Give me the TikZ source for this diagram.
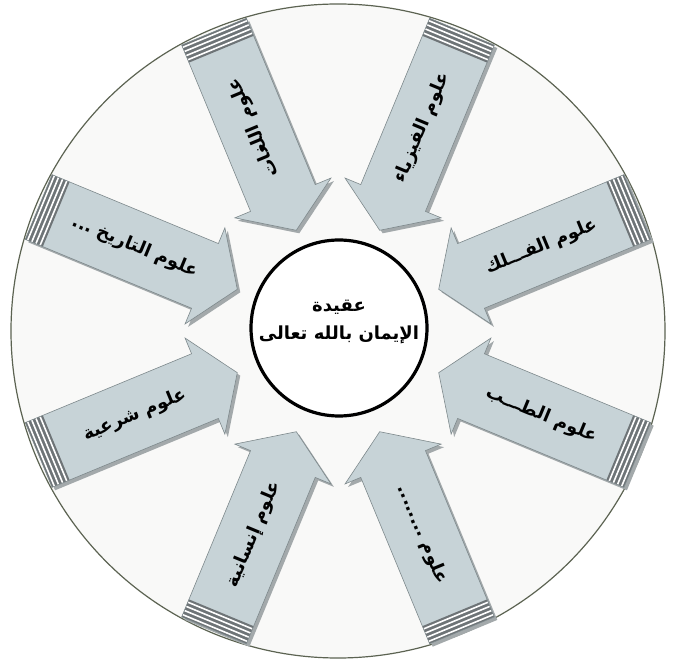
\documentclass[tikz,border=0pt]{standalone}
\usepackage{fontspec}
\newfontfamily\arabicfont[Script=Arabic]{DejaVu Sans}
\TeXXeTstate=1
\definecolor{arrowfill}{HTML}{C7D3D7}
\definecolor{arrowborder}{HTML}{7E898C}
\definecolor{arrowshadow}{HTML}{A3A9AB}
\definecolor{stripedark}{HTML}{6E7477}
\definecolor{discfill}{HTML}{F9F9F8}
\definecolor{discborder}{HTML}{5C6352}
\newcommand{\manydots}{........}
\newcommand{\fewdots}{...}
\tikzset{
  arrowbody/.pic={
    \fill[pic actions] (109,0) -- (144,52) -- (144,35) -- (324,35)
      -- (324,-35) -- (144,-35) -- (144,-52) -- cycle;
  },
  sciencearrow/.pic={
    \fill[arrowfill] (109,0) -- (144,52) -- (144,35) -- (324,35)
      -- (324,-35) -- (144,-35) -- (144,-52) -- cycle;
    \fill[stripedark] (305,-35) rectangle (324,35);
    \foreach \s in {308,312.5,317,321.5}
      \draw[white, line width=1.6pt] (\s,-35) -- (\s,35);
    \draw[arrowborder, line width=0.6pt] (109,0) -- (144,52) -- (144,35) -- (324,35)
      -- (324,-35) -- (144,-35) -- (144,-52) -- cycle;
  }
}

\begin{document}
\begin{tikzpicture}[x=1pt, y=1pt]
  \useasboundingbox (0,0) rectangle (675,662);
  \coordinate (c) at (338,331);
  \draw[discborder, fill=discfill, line width=1.2pt] (c) circle (327);

  % arrows pointing at the core
  \foreach \a in {22.5,67.5,112.5,157.5,202.5,247.5,292.5,337.5}
    \pic[fill=arrowshadow, rotate=\a] at ([shift={(3,-3)}]c) {arrowbody};
  \foreach \a in {22.5,67.5,112.5,157.5,202.5,247.5,292.5,337.5}
    \pic[rotate=\a] at (c) {sciencearrow};

  % labels along the arrows
  \foreach \a/\r/\t [count=\i] in {
      112.5/112.5/{علوم اللغات},
      67.5/67.5/{علوم الفيزياء},
      22.5/22.5/{علوم الفـــلك},
      -22.5/-22.5/{علوم الطـــب},
      -67.5/-67.5/{علوم \manydots},
      247.5/67.5/{علوم إنسانية},
      202.5/22.5/{علوم شرعية},
      157.5/-22.5/{علوم التاريخ \fewdots}}
    \node[rotate=\r, font=\arabicfont\bfseries\fontsize{18}{22}\selectfont] (label\i)
      at ([shift={(\a:220)}]c) {\beginR\t\endR};

  \node[circle, draw, line width=3.2pt, fill=white, minimum size=176] (core) at (339,334) {};
  \node[font=\arabicfont\bfseries\fontsize{18}{28}\selectfont, align=center] (corelabel)
    at ([yshift=6]core.center) {\beginR عقيدة\endR\\\beginR الإيمان بالله تعالى\endR};
\end{tikzpicture}
\end{document}
